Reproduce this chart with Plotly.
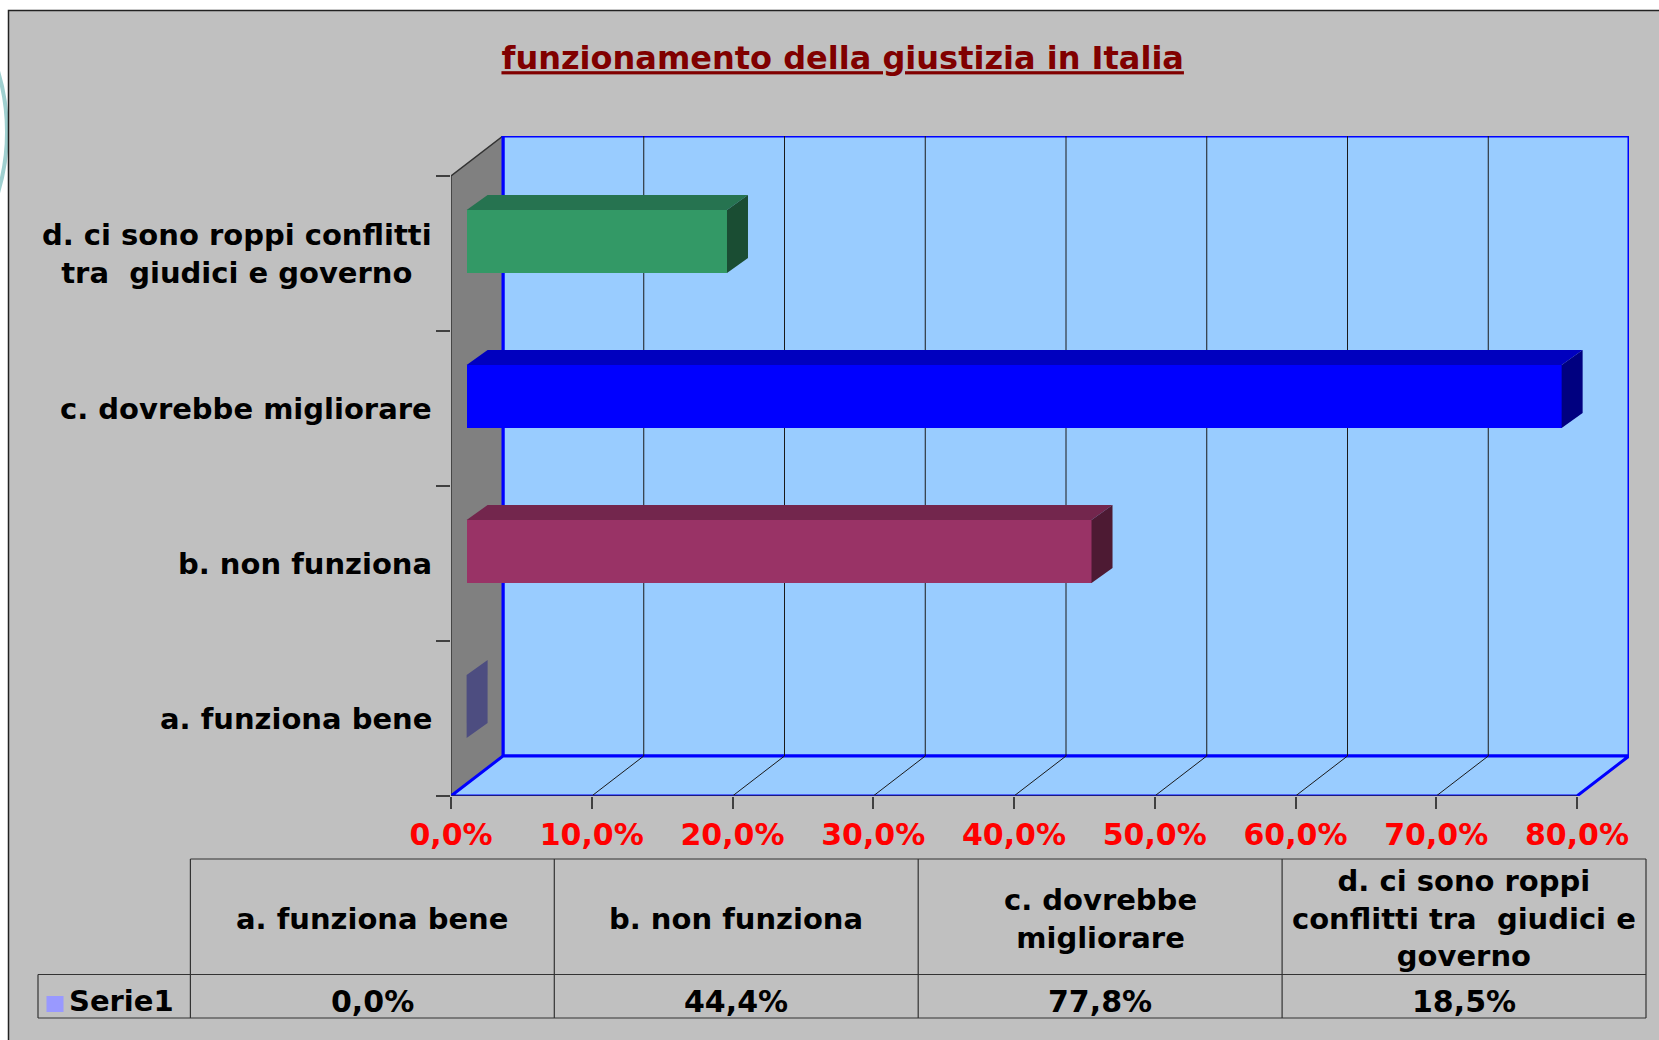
import plotly.graph_objects as go

# ---------------- data ----------------
categories = ["a. funziona bene", "b. non funziona", "c. dovrebbe migliorare",
              "d. ci sono roppi conflitti tra  giudici e governo"]
axis_labels = ["a. funziona bene", "b. non funziona", "c. dovrebbe migliorare",
               "d. ci sono roppi conflitti<br>tra \u00a0giudici e governo"]
table_headers = ["a. funziona bene", "b. non funziona", "c. dovrebbe<br>migliorare",
                 "d. ci sono roppi<br>conflitti tra \u00a0giudici e<br>governo"]
values = [0.0, 44.4, 77.8, 18.5]
series_name = "Serie1"
x_tickvals = [0, 10, 20, 30, 40, 50, 60, 70, 80]
x_ticktext = ["0,0%", "10,0%", "20,0%", "30,0%", "40,0%", "50,0%", "60,0%", "70,0%", "80,0%"]
front_colors = ["#9999FF", "#993366", "#0000FF", "#339966"]
top_colors = ["#7373BF", "#73264D", "#0000BF", "#267350"]
end_colors = ["#4D4D80", "#4D1A33", "#000080", "#1A4D33"]
series_color = "#9999FF"

# ---------------- geometry (pixels of the 1659x1040 page) ----------------
W, H = 1659, 1040
L, R, T, B = 451, 1629, 136, 796          # plot area
DEPTH_PX_X, DEPTH_PX_Y = 52, 40          # 3-D depth of the walls
XMAX = 80
px_per_x = (R - L - DEPTH_PX_X) / XMAX
DX = DEPTH_PX_X / px_per_x
px_per_y = (B - T - DEPTH_PX_Y) / 4.0
DY = DEPTH_PX_Y / px_per_y
Y0, Y1 = -0.5, 3.5
BAR_H = 63 / px_per_y
BAR_DX = 21 / px_per_x
BAR_DY = 15 / px_per_y
FRONT_F = 0.3
PW, PH = R - L, B - T


def xp(px):
    return (px - L) / PW


def yp(py):
    return (B - py) / PH


FONT = "DejaVu Sans"
LBL = 29

fig = go.Figure()

# ---------------- bars (front faces) ----------------
ypos = list(range(len(categories)))
x0 = FRONT_F * DX
fig.add_trace(go.Bar(
    orientation="h", x=values, y=[c + FRONT_F * DY for c in ypos], base=x0,
    width=BAR_H, marker=dict(color=front_colors, line=dict(width=0)),
    hoverinfo="skip", showlegend=False))

# top and end faces
for c, v, tc, ec in zip(ypos, values, top_colors, end_colors):
    yc = c + FRONT_F * DY
    yt, yb = yc + BAR_H / 2, yc - BAR_H / 2
    xe = x0 + v
    if v > 0:
        fig.add_trace(go.Scatter(
            x=[x0, xe, xe + BAR_DX, x0 + BAR_DX, x0],
            y=[yt, yt, yt + BAR_DY, yt + BAR_DY, yt],
            fill="toself", fillcolor=tc, mode="lines", line=dict(width=0),
            hoverinfo="skip", showlegend=False))
    fig.add_trace(go.Scatter(
        x=[xe, xe, xe + BAR_DX, xe + BAR_DX, xe],
        y=[yb, yt, yt + BAR_DY, yb + BAR_DY, yb],
        fill="toself", fillcolor=ec, mode="lines", line=dict(width=0),
        hoverinfo="skip", showlegend=False))

shapes = []
# slide backdrop
shapes.append(dict(type="circle", xref="paper", yref="paper",
                   x0=xp(-413), x1=xp(7), y0=yp(132 + 210), y1=yp(132 - 210),
                   line=dict(color="#9FD0D0", width=4), layer="below"))
shapes.append(dict(type="rect", xref="paper", yref="paper",
                   x0=xp(8.5), x1=xp(1700), y0=yp(1100), y1=yp(10.5),
                   fillcolor="#C0C0C0", line=dict(color="#222222", width=1.5), layer="below"))
# back wall
shapes.append(dict(type="rect", xref="x", yref="y", x0=DX, x1=XMAX + DX,
                   y0=Y0 + DY, y1=Y1 + DY, fillcolor="#99CCFF",
                   line=dict(color="#0000FF", width=3), layer="below"))
# side wall
shapes.append(dict(type="path", xref="x", yref="y",
                   path=f"M 0,{Y0} L {DX},{Y0 + DY} L {DX},{Y1 + DY} L 0,{Y1} Z",
                   fillcolor="#808080", line=dict(color="#333333", width=1.5), layer="below"))
shapes.append(dict(type="line", xref="x", yref="y", x0=DX, x1=DX, y0=Y0 + DY, y1=Y1 + DY,
                   line=dict(color="#0000FF", width=3), layer="below"))
# floor
shapes.append(dict(type="path", xref="x", yref="y",
                   path=f"M 0,{Y0} L {XMAX},{Y0} L {XMAX + DX},{Y0 + DY} L {DX},{Y0 + DY} Z",
                   fillcolor="#99CCFF", line=dict(color="#0000FF", width=3), layer="below"))
# grid lines
for k in x_tickvals[1:-1]:
    shapes.append(dict(type="line", xref="x", yref="y", x0=k + DX, x1=k + DX,
                       y0=Y0 + DY, y1=Y1 + DY, line=dict(color="#1a1a1a", width=1), layer="below"))
    shapes.append(dict(type="line", xref="x", yref="y", x0=k, x1=k + DX,
                       y0=Y0, y1=Y0 + DY, line=dict(color="#1a1a1a", width=1), layer="below"))
# front floor edge
shapes.append(dict(type="line", xref="x", yref="y", x0=0, x1=XMAX, y0=Y0, y1=Y0,
                   line=dict(color="#1a1a80", width=2), layer="below"))

annotations = []
# category labels
for c, lab in zip(ypos, axis_labels):
    annotations.append(dict(xref="paper", yref="y", x=xp(434), y=c, text=f"<b>{lab}</b>",
                            xanchor="right", yanchor="middle", align="center", showarrow=False,
                            font=dict(family=FONT, size=LBL, color="black")))

# ---------------- data table ----------------
TBL_X0, TBL_X1 = 190.4, 1646
KEY_X0 = 38
ROW_Y = [859, 974.5, 1018]
ncol = len(categories)
col_w = (TBL_X1 - TBL_X0) / ncol
col_edges = [TBL_X0 + i * col_w for i in range(ncol + 1)]
lc = dict(color="#333333", width=1.2)
shapes.append(dict(type="line", xref="paper", yref="paper", x0=xp(TBL_X0), x1=xp(TBL_X1),
                   y0=yp(ROW_Y[0]), y1=yp(ROW_Y[0]), line=lc))
for ry in ROW_Y[1:]:
    shapes.append(dict(type="line", xref="paper", yref="paper", x0=xp(KEY_X0), x1=xp(TBL_X1),
                       y0=yp(ry), y1=yp(ry), line=lc))
shapes.append(dict(type="line", xref="paper", yref="paper", x0=xp(KEY_X0), x1=xp(KEY_X0),
                   y0=yp(ROW_Y[1]), y1=yp(ROW_Y[2]), line=lc))
for ex in col_edges:
    shapes.append(dict(type="line", xref="paper", yref="paper", x0=xp(ex), x1=xp(ex),
                       y0=yp(ROW_Y[0]), y1=yp(ROW_Y[2]), line=lc))
for i, (hd, v) in enumerate(zip(table_headers, values)):
    cx = (col_edges[i] + col_edges[i + 1]) / 2
    annotations.append(dict(xref="paper", yref="paper", x=xp(cx), y=yp((ROW_Y[0] + ROW_Y[1]) / 2 + 2),
                            text=f"<b>{hd}</b>", showarrow=False, align="center",
                            xanchor="center", yanchor="middle",
                            font=dict(family=FONT, size=LBL, color="black")))
    annotations.append(dict(xref="paper", yref="paper", x=xp(cx), y=yp((ROW_Y[1] + ROW_Y[2]) / 2 + 5),
                            text="<b>" + f"{v:.1f}%".replace(".", ",") + "</b>", showarrow=False,
                            xanchor="center", yanchor="middle",
                            font=dict(family=FONT, size=30, color="black")))
# legend key
shapes.append(dict(type="rect", xref="paper", yref="paper", x0=xp(46.5), x1=xp(63.5),
                   y0=yp(1012), y1=yp(996), fillcolor=series_color, line=dict(width=0)))
annotations.append(dict(xref="paper", yref="paper", x=xp(67), y=yp((ROW_Y[1] + ROW_Y[2]) / 2 + 5),
                        text=f"<b>{series_name}</b>", showarrow=False, xanchor="left", yanchor="middle",
                        font=dict(family=FONT, size=LBL, color="black")))

fig.update_layout(
    width=W, height=H, autosize=False,
    margin=dict(l=L, r=W - R, t=T, b=H - B, pad=0),
    paper_bgcolor="white", plot_bgcolor="rgba(0,0,0,0)",
    showlegend=False, bargap=0,
    title=dict(text="<u><b>funzionamento della giustizia in Italia</b></u>",
               x=842.7 / W, y=1 - 58 / H, xref="container", yref="container",
               xanchor="center", yanchor="middle",
               font=dict(family=FONT, size=32, color="#800000")),
    xaxis=dict(range=[0, XMAX + DX], tickmode="array", tickvals=x_tickvals, ticktext=x_ticktext,
               ticks="outside", ticklen=12, tickcolor="#404040", tickwidth=1.5,
               showgrid=False, zeroline=False, showline=False, ticklabelstandoff=0,
               tickfont=dict(family=FONT, size=30, color="#FF0000", weight="bold")),
    yaxis=dict(range=[Y0, Y1 + DY], tickmode="array",
               tickvals=[Y0 + i for i in range(len(categories) + 1)],
               ticks="outside", ticklen=14, tickcolor="#404040", tickwidth=1.5,
               showticklabels=False, showgrid=False, zeroline=False, showline=False),
    shapes=shapes, annotations=annotations,
)

fig.write_html("out.html", config=dict(displayModeBar=False),
               post_script="document.body.style.margin='0';")
